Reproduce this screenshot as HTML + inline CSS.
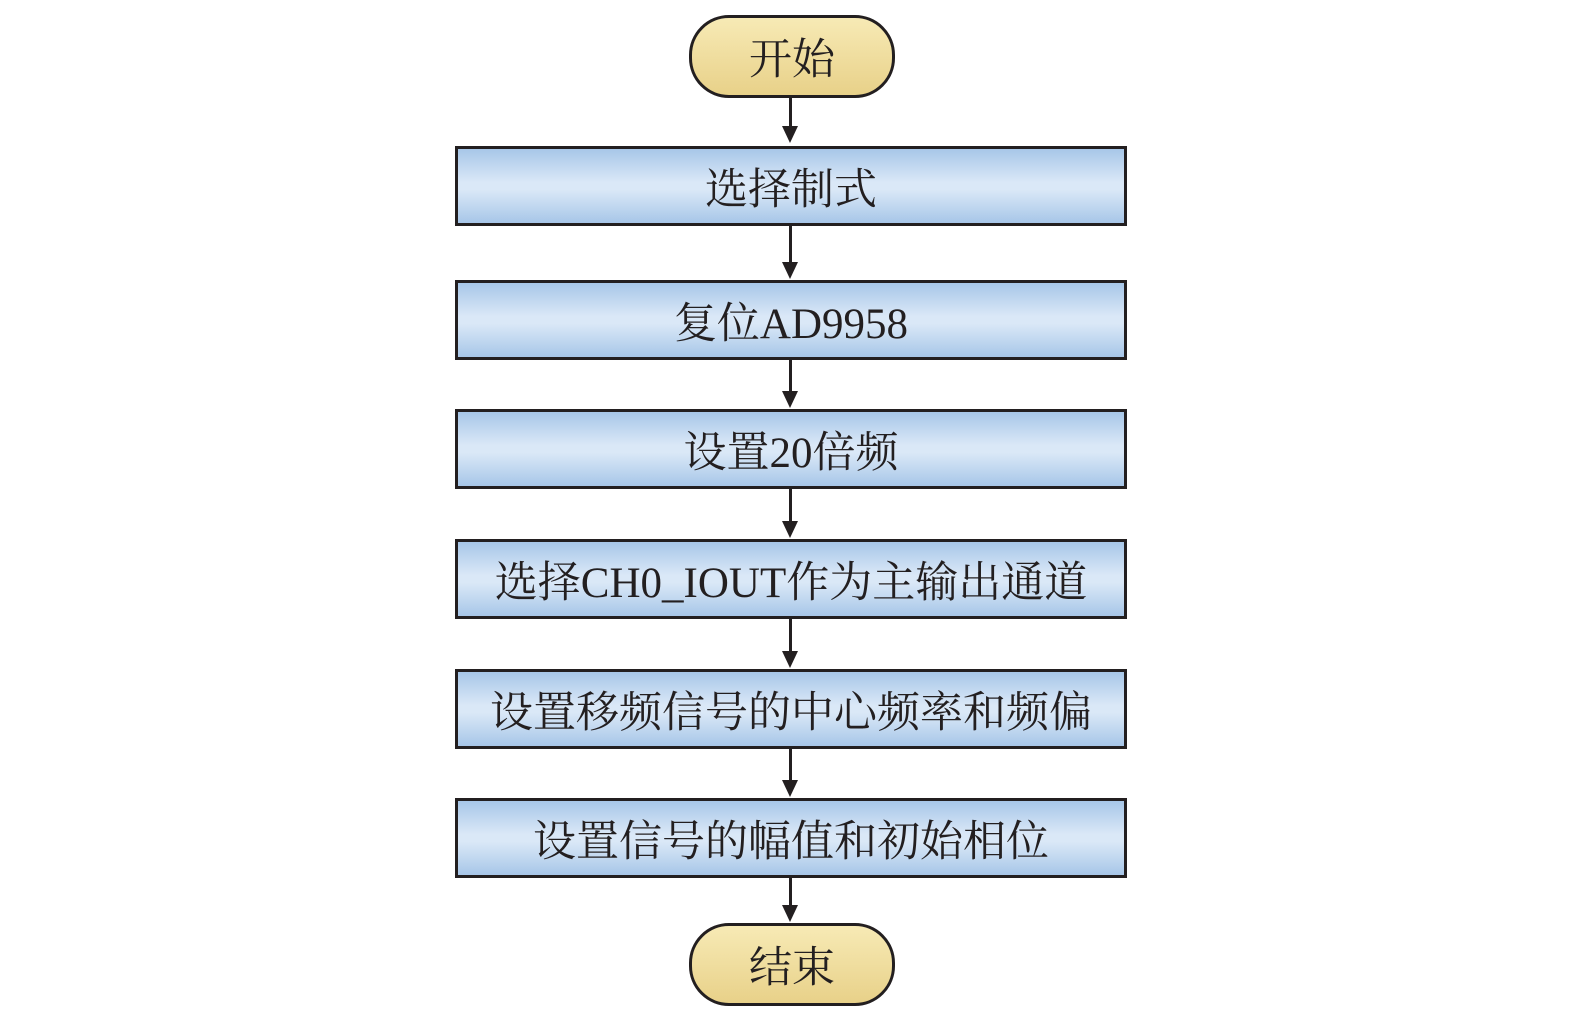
<!DOCTYPE html>
<html><head><meta charset="utf-8"><style>
body{margin:0;width:1575px;height:1021px;background:#fff;position:relative;overflow:hidden;font-family:"Liberation Serif","Noto Serif CJK SC",serif;}
.b{position:absolute;left:455px;width:666px;height:74px;border:3px solid #231f20;background:linear-gradient(#a7c6e8,#dae8f7 45%,#dae8f7 55%,#a7c6e8);display:flex;align-items:center;justify-content:center;font-size:43px;color:#231f20;}
.o{position:absolute;left:689px;width:200px;height:77px;border:3px solid #231f20;border-radius:40px;background:linear-gradient(#f7eab5,#e8d189);display:flex;align-items:center;justify-content:center;font-size:43px;color:#231f20;}
.l{position:absolute;left:789px;width:3px;background:#231f20;}
.a{position:absolute;left:782px;width:0;height:0;border-left:8.5px solid transparent;border-right:8.5px solid transparent;border-top:17px solid #231f20;}
</style></head><body>
<div class="o" style="top:15px">开始</div>
<div class="b" style="top:146px">选择制式</div>
<div class="b" style="top:280px">复位AD9958</div>
<div class="b" style="top:409px">设置20倍频</div>
<div class="b" style="top:539px">选择CH0_IOUT作为主输出通道</div>
<div class="b" style="top:669px">设置移频信号的中心频率和频偏</div>
<div class="b" style="top:798px">设置信号的幅值和初始相位</div>
<div class="o" style="top:923px">结束</div>
<div class="l" style="top:97px;height:29px"></div><div class="a" style="top:126px"></div>
<div class="l" style="top:226px;height:37px"></div><div class="a" style="top:262px"></div>
<div class="l" style="top:360px;height:32px"></div><div class="a" style="top:391px"></div>
<div class="l" style="top:489px;height:33px"></div><div class="a" style="top:521px"></div>
<div class="l" style="top:619px;height:33px"></div><div class="a" style="top:651px"></div>
<div class="l" style="top:749px;height:32px"></div><div class="a" style="top:780px"></div>
<div class="l" style="top:878px;height:28px"></div><div class="a" style="top:905px"></div>
</body></html>
